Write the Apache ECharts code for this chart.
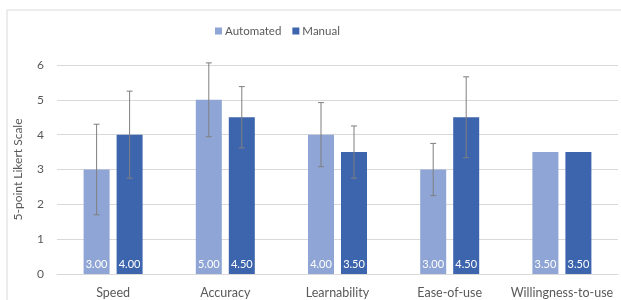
<!DOCTYPE html>
<html><head><meta charset="utf-8">
<script src="https://cdn.jsdelivr.net/npm/echarts@6/dist/echarts.min.js"></script>
<style>html,body{margin:0;padding:0;background:#fff}#c{width:621px;height:300px}</style>
</head><body><div id="c"></div>
<script>
var categories = ['Speed', 'Accuracy', 'Learnability', 'Ease-of-use', 'Willingness-to-use'];
var automated = [3.00, 5.00, 4.00, 3.00, 3.50];
var manual = [4.00, 4.50, 3.50, 4.50, 3.50];
var automatedErr = [1.30, 1.06, 0.92, 0.75, null];
var manualErr = [1.25, 0.88, 0.75, 1.16, null];
var yTicks = [0, 1, 2, 3, 4, 5, 6];

var FONT = 'Lato';
var BAR_W = 26, GAP = 7;

function errSeries(name, values, errs, side) {
  var data = values.map(function (v, i) { return [i, v, errs[i]]; }).filter(function (d) { return d[2] != null; });
  return {
    type: 'custom', name: name + ' err', z: 10, silent: true,
    data: data,
    renderItem: function (params, api) {
      var i = api.value(0), v = api.value(1), e = api.value(2);
      var off = side * (BAR_W + GAP) / 2;
      var top = api.coord([i, v + e]), bot = api.coord([i, v - e]);
      var x = top[0] + off;
      var st = { stroke: '#7f7f7f', lineWidth: 1 };
      return { type: 'group', children: [
        { type: 'line', shape: { x1: x, y1: top[1], x2: x, y2: bot[1] }, style: st },
        { type: 'line', shape: { x1: x - 3, y1: top[1], x2: x + 3, y2: top[1] }, style: st },
        { type: 'line', shape: { x1: x - 3, y1: bot[1], x2: x + 3, y2: bot[1] }, style: st }
      ]};
    }
  };
}

var chart = echarts.init(document.getElementById('c'), null, { renderer: 'canvas' });
chart.setOption({
  animation: false,
  textStyle: { fontFamily: FONT },
  graphic: [{ type: 'rect', shape: { x: 7, y: 10, width: 700, height: 400 }, style: { fill: 'none', stroke: '#d9d9d9', lineWidth: 1 }, silent: true }],
  legend: {
    data: ['Automated', 'Manual'], top: 20, left: 210, itemWidth: 7, itemHeight: 7, itemGap: 11,
    textStyle: { color: '#595959', fontSize: 11.5, fontFamily: FONT, padding: [0, 0, 0, -2] }, icon: 'rect'
  },
  grid: { left: 57, right: 3, top: 65, bottom: 26 },
  xAxis: {
    type: 'category', data: categories,
    axisLine: { lineStyle: { color: '#d9d9d9' } }, axisTick: { show: false },
    axisLabel: { color: '#595959', fontSize: 12.5, margin: 12, fontFamily: FONT, interval: 0 }
  },
  yAxis: {
    type: 'value', min: yTicks[0], max: yTicks[yTicks.length - 1], interval: 1,
    name: '5-point Likert Scale', nameLocation: 'middle', nameGap: 33, nameRotate: 90,
    nameTextStyle: { color: '#595959', fontSize: 12, fontFamily: FONT },
    axisLine: { show: false }, axisTick: { show: false },
    axisLabel: { color: '#595959', fontSize: 12, margin: 13, fontFamily: FONT },
    splitLine: { lineStyle: { color: '#d9d9d9' } }
  },
  series: [
    { name: 'Automated', type: 'bar', data: automated, barWidth: BAR_W, barGap: (GAP / BAR_W * 100) + '%',
      itemStyle: { color: '#8FA5D5' },
      label: { show: true, position: 'insideBottom', distance: 4, color: '#fff', fontSize: 11, fontFamily: FONT,
        formatter: function (p) { return p.value.toFixed(2); } } },
    { name: 'Manual', type: 'bar', data: manual, barWidth: BAR_W,
      itemStyle: { color: '#3D65AE' },
      label: { show: true, position: 'insideBottom', distance: 4, color: '#fff', fontSize: 11, fontFamily: FONT,
        formatter: function (p) { return p.value.toFixed(2); } } },
    errSeries('Automated', automated, automatedErr, -1),
    errSeries('Manual', manual, manualErr, 1)
  ]
});
</script></body></html>
